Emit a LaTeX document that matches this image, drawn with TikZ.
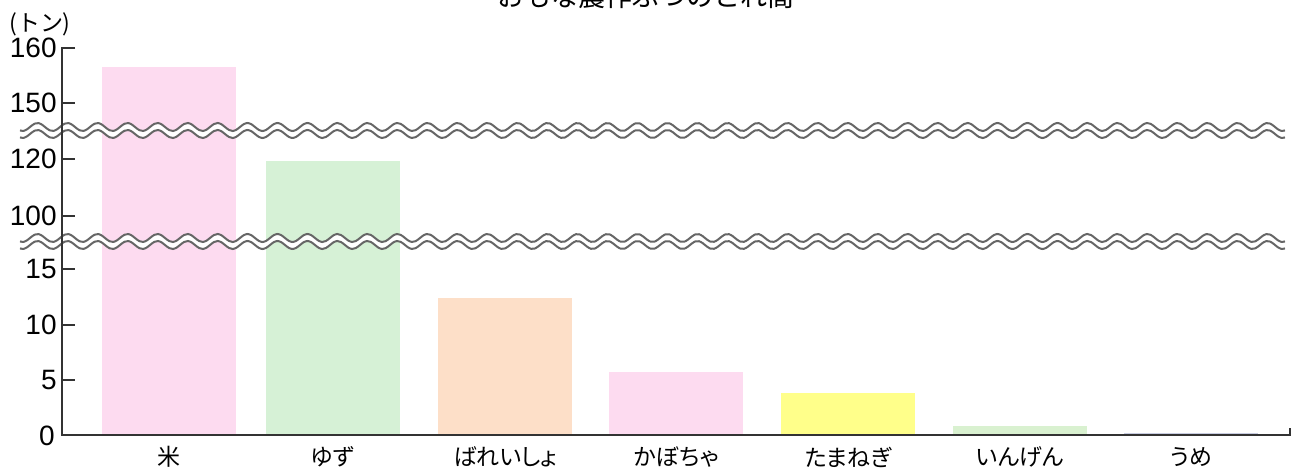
\documentclass[tikz,border=0pt]{standalone}
\usepackage{fontspec}
\newfontfamily\jfont{Noto Sans CJK JP}
\newfontfamily\jpfont[RawFeature=+palt]{Noto Sans CJK JP}
\newfontfamily\numfont{Liberation Sans}
\usetikzlibrary{positioning}

\definecolor{barpink}{HTML}{FDDBF0}
\definecolor{bargreen}{HTML}{D6F1D6}
\definecolor{barpeach}{HTML}{FDDFC8}
\definecolor{baryellow}{HTML}{FFFF8A}
\definecolor{barlgreen}{HTML}{D9F1D0}
\definecolor{barume}{HTML}{C8CCE0}

\begin{document}
\begin{tikzpicture}[x=0.5pt,y=0.5pt,
  bar/.style={anchor=south,inner sep=0pt,minimum width=67pt,draw=none},
  xlab/.style={font=\jpfont\fontsize{11.5}{13}\selectfont,inner sep=0pt},
  ylab/.style={font=\numfont\fontsize{14}{16}\selectfont,anchor=east,inner sep=0pt},
  axis/.style={line width=0.9pt,draw=black!80},
  wave/.style={line width=1pt,draw=black!60}]

  \useasboundingbox (0,0) rectangle (1298,471);

  % title, cut off at the top edge
  \node[font=\jfont\fontsize{13.5}{15}\selectfont,anchor=base,inner sep=0pt]
    (title) at (646,464) {おもな農作ぶつのとれ高};
  \node[font=\jfont\fontsize{11.5}{13}\selectfont,inner sep=0pt] (unit) at (40,447) {(トン)};

  % bars and their names
  \foreach \i/\xc/\h/\col/\name in {1/169/368/barpink/米, 2/333/274/bargreen/ゆず,
      3/505/137/barpeach/ばれいしょ, 4/676/63/barpink/かぼちゃ,
      5/848/42/baryellow/たまねぎ, 6/1020/9/barlgreen/いんげん, 7/1191/2/barume/うめ}
  {
    \node[bar,fill=\col,minimum height=\h*0.5pt] (bar\i) at (\xc,36) {};
    \node[xlab] (lab\i) at (\xc,14) {\name};
  }

  % breaks in the scale
  \foreach \yc in {340.5,229.5}
  {
    \fill[white] plot[domain=20:1285,samples=340,smooth] (\x,{\yc+3.5+4*sin(12*\x)})
      -- plot[domain=1285:20,samples=340,smooth] (\x,{\yc-3.5+4*sin(12*\x)}) -- cycle;
    \draw[wave] plot[domain=20:1285,samples=340,smooth] (\x,{\yc+3.5+4*sin(12*\x)});
    \draw[wave] plot[domain=20:1285,samples=340,smooth] (\x,{\yc-3.5+4*sin(12*\x)});
  }

  % axes
  \coordinate (o) at (62,36);
  \coordinate (ytop) at (62,423);
  \coordinate (xend) at (1290,36);
  \draw[axis] (75,423) -- (ytop) -- (o) -- (xend) -- ++(0,7);
  \node[ylab] (y160) at (57,423) {160};
  \foreach \v/\yy in {150/368, 120/312, 100/255, 15/202, 10/146, 5/91}
  {
    \draw[axis] (62,\yy) -- (75,\yy);
    \node[ylab] (y\v) at (57,\yy) {\v};
  }
  \node[ylab] (y0) at (55,35) {0};
\end{tikzpicture}
\end{document}
